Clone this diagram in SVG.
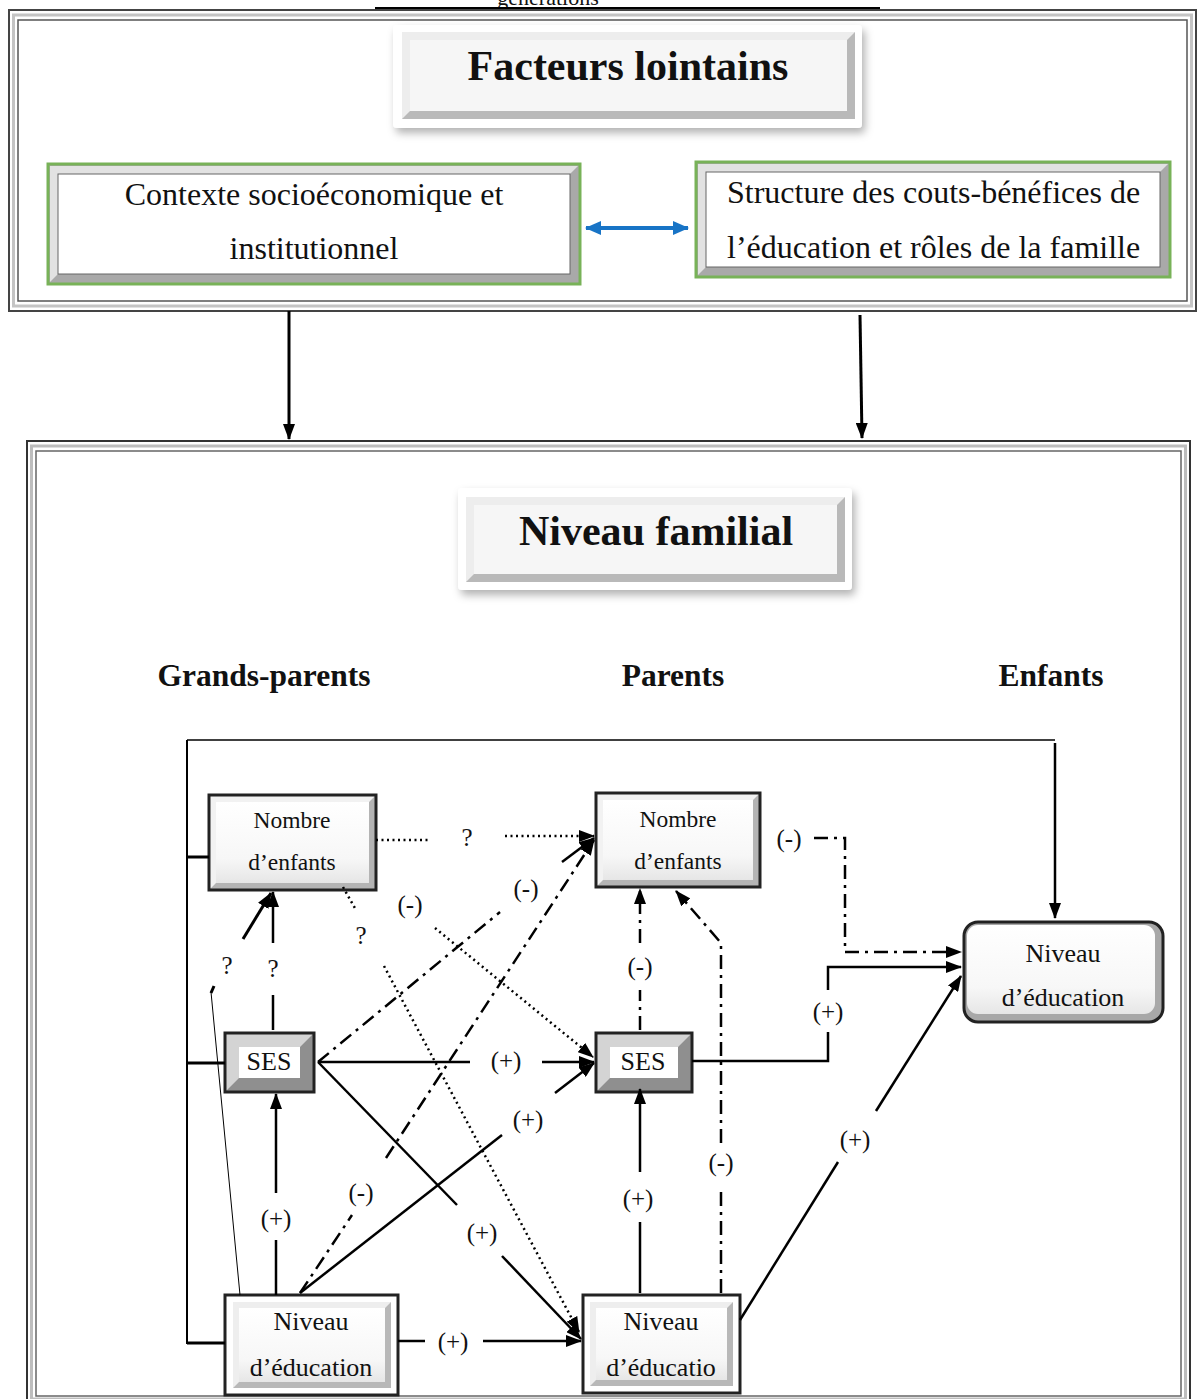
<svg xmlns="http://www.w3.org/2000/svg" width="1198" height="1399" viewBox="0 0 1198 1399">
<style>
text{font-family:"Liberation Serif","Times New Roman",serif;fill:#111}
.title{font-size:42px;font-weight:bold;text-anchor:middle}
.head{font-size:31.5px;font-weight:bold;text-anchor:middle}
.big{font-size:32px}
.node{font-size:23.5px;text-anchor:middle}
.node2{font-size:26px;text-anchor:middle}
.lbl{font-size:25px;text-anchor:middle}
.bd{fill:none;stroke:#222;stroke-width:3}
.c{fill:none;stroke:#000;stroke-width:2.5}
.dot{fill:none;stroke:#000;stroke-width:2.5;stroke-dasharray:2 3.5}
.dd{fill:none;stroke:#000;stroke-width:2.5;stroke-dasharray:14 6 3 6}
.arr{marker-end:url(#ah)}
</style>
<defs>
<marker id="ah" markerUnits="userSpaceOnUse" markerWidth="16" markerHeight="12" refX="15" refY="6" orient="auto"><path d="M0,0 L16,6 L0,12 z" fill="#000"/></marker>
<marker id="bh" markerUnits="userSpaceOnUse" markerWidth="16" markerHeight="14" refX="15" refY="7" orient="auto-start-reverse"><path d="M0,0 L16,7 L0,14 z" fill="#1874c6"/></marker>
<linearGradient id="face" x1="0" y1="0" x2="0" y2="1"><stop offset="0" stop-color="#ffffff"/><stop offset="0.7" stop-color="#f7f7f7"/><stop offset="1" stop-color="#e6e6e6"/></linearGradient>
<filter id="sh" x="-10%" y="-20%" width="125%" height="150%"><feDropShadow dx="3" dy="5" stdDeviation="4" flood-color="#000" flood-opacity="0.3"/></filter>
</defs>

<text x="548" y="5" style="font-size:22px;text-anchor:middle">générations</text>
<line x1="375" y1="8" x2="880" y2="8" stroke="#000" stroke-width="2"/>

<g id="frame-top">
<rect x="9" y="10" width="1187" height="301" fill="#fff" stroke="#444" stroke-width="2"/>
<rect x="13.5" y="15" width="1178" height="291" fill="none" stroke="#c4c4c4" stroke-width="3"/>
<rect x="18" y="20" width="1169" height="281" fill="none" stroke="#555" stroke-width="1.5"/>
</g>

<g id="title-facteurs">
<rect x="393" y="25" width="469" height="103" rx="4" fill="#fff" filter="url(#sh)"/>
<rect x="402" y="32" width="453" height="87" fill="#b9b9b9"/>
<polygon points="402,32 855,32 847,40 410,40 410,111 402,119" fill="#ededed"/>
<rect x="410" y="40" width="437" height="71" fill="#f6f6f6"/>
<text class="title" x="628" y="80">Facteurs lointains</text>
</g>

<g id="contexte">
<rect x="48" y="164" width="532" height="120" fill="#a9a9a9" stroke="#78b258" stroke-width="3"/>
<polygon points="50,166 578,166 570,174 58,174 58,274 50,282" fill="#e2e2e2"/>
<rect x="58" y="174" width="512" height="100" fill="#fff" stroke="#666" stroke-width="1"/>
<text class="big" x="314" y="205" text-anchor="middle">Contexte socioéconomique et</text>
<text class="big" x="314" y="259" text-anchor="middle">institutionnel</text>
</g>

<g id="structure">
<rect x="696" y="162" width="474" height="115" fill="#a9a9a9" stroke="#78b258" stroke-width="3"/>
<polygon points="698,164 1168,164 1160,172 706,172 706,267 698,275" fill="#e2e2e2"/>
<rect x="706" y="172" width="454" height="95" fill="#fff" stroke="#666" stroke-width="1"/>
<text class="big" x="727" y="203">Structure des couts-bénéfices de</text>
<text class="big" x="727" y="258">l’éducation et rôles de la famille</text>
</g>

<g id="frame-bottom">
<rect x="27" y="441" width="1163" height="975" fill="#fff" stroke="#333" stroke-width="2"/>
<rect x="31.5" y="446" width="1154" height="953" fill="none" stroke="#bdbdbd" stroke-width="3"/>
<rect x="36" y="451" width="1145" height="945" fill="none" stroke="#666" stroke-width="1.5"/>
</g>

<g id="title-familial">
<rect x="458" y="488" width="394" height="102" rx="4" fill="#fff" filter="url(#sh)"/>
<rect x="466" y="497" width="379" height="85" fill="#b9b9b9"/>
<polygon points="466,497 845,497 837,505 474,505 474,574 466,582" fill="#ededed"/>
<rect x="474" y="505" width="363" height="69" fill="#f6f6f6"/>
<text class="title" x="656" y="545">Niveau familial</text>
</g>

<g id="headings">
<text class="head" x="264" y="686">Grands-parents</text>
<text class="head" x="673" y="686">Parents</text>
<text class="head" x="1051" y="686">Enfants</text>
</g>

<g id="gp-nombre">
<rect x="209" y="795" width="167" height="95" fill="#b4b4b4"/>
<polygon points="209,795 376,795 369,802 216,802 216,883 209,890" fill="#f2f2f2"/>
<rect x="216" y="802" width="153" height="81" fill="url(#face)"/>
<rect class="bd" x="209" y="795" width="167" height="95"/>
<text class="node" x="292" y="828">Nombre</text>
<text class="node" x="292" y="870">d’enfants</text>
</g>

<g id="gp-ses">
<rect x="225" y="1033" width="89" height="59" fill="#8f8f8f"/>
<polygon points="225,1033 314,1033 300,1047 239,1047 239,1078 225,1092" fill="#d4d4d4"/>
<rect x="239" y="1047" width="61" height="31" fill="#fff"/>
<rect class="bd" x="225" y="1033" width="89" height="59"/>
<text class="node2" x="269" y="1070">SES</text>
</g>

<g id="gp-niveau">
<rect x="225" y="1295" width="173" height="100" fill="#fff" stroke="#222" stroke-width="3"/>
<rect x="233" y="1302" width="158" height="86" fill="#b8b8b8"/>
<polygon points="233,1302 391,1302 385,1308 239,1308 239,1382 233,1388" fill="#eeeeee"/>
<rect x="239" y="1308" width="146" height="74" fill="url(#face)"/>
<text class="node2" x="311" y="1330">Niveau</text>
<text class="node2" x="311" y="1376">d’éducation</text>
</g>

<g id="p-nombre">
<rect x="596" y="793" width="164" height="94" fill="#b4b4b4"/>
<polygon points="596,793 760,793 753,800 603,800 603,880 596,887" fill="#f2f2f2"/>
<rect x="603" y="800" width="150" height="80" fill="url(#face)"/>
<rect class="bd" x="596" y="793" width="164" height="94"/>
<text class="node" x="678" y="827">Nombre</text>
<text class="node" x="678" y="869">d’enfants</text>
</g>

<g id="p-ses">
<rect x="596" y="1033" width="96" height="59" fill="#8f8f8f"/>
<polygon points="596,1033 692,1033 678,1047 610,1047 610,1078 596,1092" fill="#d4d4d4"/>
<rect x="610" y="1047" width="68" height="31" fill="#fff"/>
<rect class="bd" x="596" y="1033" width="96" height="59"/>
<text class="node2" x="643" y="1070">SES</text>
</g>

<g id="p-niveau">
<rect x="583" y="1295" width="157" height="98" fill="#fff" stroke="#222" stroke-width="3"/>
<rect x="590" y="1302" width="143" height="84" fill="#b8b8b8"/>
<polygon points="590,1302 733,1302 727,1308 596,1308 596,1380 590,1386" fill="#eeeeee"/>
<rect x="596" y="1308" width="131" height="72" fill="url(#face)"/>
<text class="node2" x="661" y="1330">Niveau</text>
<text class="node2" x="661" y="1376">d’éducatio</text>
</g>

<g id="e-niveau">
<rect x="964" y="922" width="199" height="100" rx="14" fill="#a8a8a8" stroke="#222" stroke-width="3"/>
<rect x="967" y="925" width="188" height="89" rx="11" fill="url(#face)"/>
<text class="node2" x="1063" y="962">Niveau</text>
<text class="node2" x="1063" y="1006">d’éducation</text>
</g>

<g id="connectors">
<path d="M289,311 V439" fill="none" stroke="#000" stroke-width="3" class="arr"/>
<path d="M860,315 L862,438" fill="none" stroke="#000" stroke-width="3" class="arr"/>
<path d="M586,228 H688" fill="none" stroke="#1874c6" stroke-width="4" marker-start="url(#bh)" marker-end="url(#bh)"/>

<path d="M187,740 H1055" fill="none" stroke="#000" stroke-width="1.5"/>
<path d="M187,740 V1344" fill="none" stroke="#000" stroke-width="2"/>
<path d="M187,857 H209 M187,1063 H225 M187,1343 H225" fill="none" stroke="#000" stroke-width="3"/>
<path class="c arr" d="M1055,743 V918"/>

<path class="dot" d="M376,840 H430"/>
<path class="dot arr" d="M505,836 H594"/>
<path class="c" d="M273,1030 V995"/>
<path class="c arr" d="M273,943 V892"/>
<path d="M240,1295 L211,992" fill="none" stroke="#000" stroke-width="1"/>
<path d="M211,993 L214,986" fill="none" stroke="#000" stroke-width="3"/>
<path class="c arr" d="M243,939 L271,893" style="stroke-width:3"/>
<path class="dot" d="M343,887 L356,910"/>
<path class="dot arr" d="M384,966 L579,1332"/>
<path class="dot arr" d="M435,928 L593,1057"/>
<path class="dd" d="M318,1062 L500,912"/>
<path class="c arr" d="M562,862 L594,838"/>
<path class="dd" d="M300,1293 L352,1215"/>
<path class="dd arr" d="M386,1158 L594,840"/>
<path class="c" d="M318,1062 H470"/>
<path class="c arr" d="M542,1062 H594"/>
<path class="c" d="M318,1062 L457,1205"/>
<path class="c arr" d="M502,1256 L581,1339"/>
<path class="c" d="M300,1293 L502,1135"/>
<path class="c arr" d="M555,1093 L594,1063"/>
<path class="c" d="M276,1295 V1240"/>
<path class="c arr" d="M276,1193 V1094"/>
<path class="c" d="M398,1341 H425"/>
<path class="c arr" d="M483,1341 H581"/>
<path class="c" d="M640,1293 V1222"/>
<path class="c arr" d="M640,1172 V1089"/>
<path class="dd" d="M640,1030 V990"/>
<path class="dd arr" d="M640,943 V889"/>
<path class="dd" d="M721,1293 V1190"/>
<path class="dd arr" d="M721,1143 V943 L676,891"/>
<path class="dd arr" d="M814,838 H845 V952 H961"/>
<path class="c" d="M692,1061 H828 V1032"/>
<path class="c arr" d="M828,990 V967 H961"/>
<path class="c" d="M740,1320 L838,1162"/>
<path class="c arr" d="M876,1111 L961,976"/>
</g>

<g id="labels">
<text class="lbl" x="467" y="846">?</text>
<text class="lbl" x="273" y="977">?</text>
<text class="lbl" x="227" y="974">?</text>
<text class="lbl" x="361" y="944">?</text>
<text class="lbl" x="410" y="913">(-)</text>
<text class="lbl" x="526" y="897">(-)</text>
<text class="lbl" x="361" y="1201">(-)</text>
<text class="lbl" x="506" y="1069">(+)</text>
<text class="lbl" x="482" y="1241">(+)</text>
<text class="lbl" x="528" y="1128">(+)</text>
<text class="lbl" x="276" y="1227">(+)</text>
<text class="lbl" x="453" y="1350">(+)</text>
<text class="lbl" x="638" y="1207">(+)</text>
<text class="lbl" x="640" y="975">(-)</text>
<text class="lbl" x="721" y="1171">(-)</text>
<text class="lbl" x="789" y="847">(-)</text>
<text class="lbl" x="828" y="1020">(+)</text>
<text class="lbl" x="855" y="1148">(+)</text>
</g>
</svg>
